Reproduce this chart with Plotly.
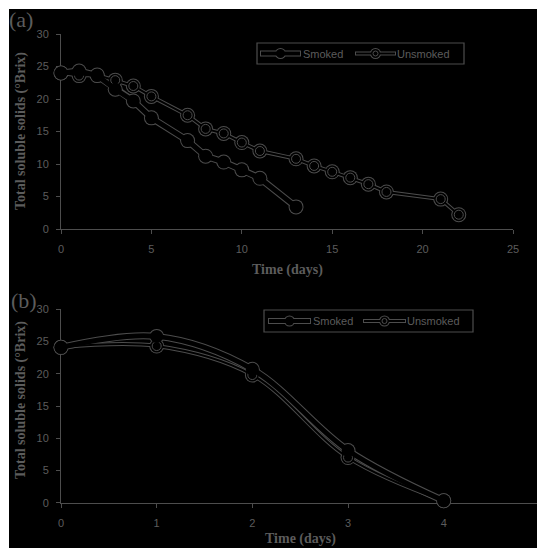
import plotly.graph_objects as go

# Panel (a): storage trial in days
days_a_smoked = [0, 1, 2, 3, 4, 5, 7, 8, 9, 10, 11, 13]
tss_a_smoked = [24.0, 24.3, 23.6, 21.5, 19.7, 17.1, 13.6, 11.2, 10.3, 9.1, 7.8, 3.4]
days_a_unsmoked = [0, 1, 2, 3, 4, 5, 7, 8, 9, 10, 11, 13, 14, 15, 16, 17, 18, 21, 22]
tss_a_unsmoked = [24.0, 23.6, 23.7, 22.9, 22.0, 20.4, 17.5, 15.4, 14.7, 13.3, 12.0,
                  10.8, 9.7, 8.8, 7.9, 6.9, 5.7, 4.6, 2.2]

# Panel (b): short trial
days_b = [0, 1, 2, 3, 4]
tss_b_smoked = [24.1, 25.8, 20.7, 8.1, 0.3]
tss_b_unsmoked = [24.1, 24.3, 19.8, 7.0, 0.3]

series_names = ["Smoked", "Unsmoked"]
x_ticks_a = [0, 5, 10, 15, 20, 25]
x_ticks_b = [0, 1, 2, 3, 4]
y_ticks = [0, 5, 10, 15, 20, 25, 30]

W, H = 537, 548
EDGE = "#4d4d4d"
TXT = "#5c5c5c"
BG = "#000000"


def px(x):
    return x / W


def py(y):
    return 1 - y / H


fig = go.Figure()


def add_halo(xs, ys, xa, ya, filled, shape):
    lw_out = 7 if filled else 4
    fig.add_trace(go.Scatter(x=xs, y=ys, xaxis=xa, yaxis=ya, mode="lines+markers",
                             line=dict(color=EDGE, width=lw_out, shape=shape),
                             marker=dict(symbol="circle", size=15, color=EDGE, line=dict(width=0)),
                             cliponaxis=False, showlegend=False, hoverinfo="skip"))


def add_core(xs, ys, xa, ya, filled, shape):
    lw_in = 5 if filled else 2
    fig.add_trace(go.Scatter(x=xs, y=ys, xaxis=xa, yaxis=ya, mode="lines+markers",
                             line=dict(color=BG, width=lw_in, shape=shape),
                             marker=dict(symbol="circle", size=13, color=BG, line=dict(width=0)),
                             cliponaxis=False, showlegend=False, hoverinfo="skip"))
    if not filled:
        fig.add_trace(go.Scatter(x=xs, y=ys, xaxis=xa, yaxis=ya, mode="markers",
                                 marker=dict(symbol="circle-open", size=9, color=EDGE,
                                             line=dict(color=EDGE, width=1)),
                                 cliponaxis=False, showlegend=False, hoverinfo="skip"))


panels = [
    ("x", "y", days_a_smoked, tss_a_smoked, days_a_unsmoked, tss_a_unsmoked, "linear"),
    ("x2", "y2", days_b, tss_b_smoked, days_b, tss_b_unsmoked, "spline"),
]
for xa, ya, xs_s, ys_s, xs_u, ys_u, shp in panels:
    add_halo(xs_u, ys_u, xa, ya, False, shp)
    add_halo(xs_s, ys_s, xa, ya, True, shp)
    add_core(xs_u, ys_u, xa, ya, False, shp)
    add_core(xs_s, ys_s, xa, ya, True, shp)

axis_common = dict(showline=True, linecolor=EDGE, linewidth=1, showgrid=False, zeroline=False,
                   ticks="outside", ticklen=4, tickcolor=EDGE, tickwidth=1,
                   tickfont=dict(family="Liberation Sans, Arial", size=11, color=TXT),
                   automargin=False, layer="below traces")

fig.update_layout(
    width=W, height=H,
    margin=dict(l=0, r=0, t=0, b=0),
    paper_bgcolor="white", plot_bgcolor=BG,
    showlegend=False,
    xaxis=dict(domain=[px(61), px(513)], range=[0, 25], tickvals=x_ticks_a,
               anchor="y", ticklabelstandoff=6, **axis_common),
    yaxis=dict(domain=[py(229), py(34)], range=[0, 30], tickvals=y_ticks,
               anchor="x", ticklabelstandoff=5, **axis_common),
    xaxis2=dict(domain=[px(61), 1], range=[0, (537 - 61) / 95.675], tickvals=x_ticks_b,
                anchor="y2", ticklabelstandoff=6, **axis_common),
    yaxis2=dict(domain=[py(502.7), py(309.3)], range=[0, 30], tickvals=y_ticks,
                anchor="x2", ticklabelstandoff=5, **axis_common),
)

shapes = [dict(type="rect", xref="paper", yref="paper", x0=px(9), x1=1, y0=0, y1=py(9),
               fillcolor=BG, line=dict(width=0), layer="below")]
annotations = []

title_font = dict(family="Liberation Serif, Times New Roman", size=14, color=TXT)
for (tx, ty), (yx, yy), (lx, ly, lab) in [
    ((287, 270), (21, 131), (21, 20, "(a)")),
    ((300, 539), (21, 400), (24, 300, "(b)")),
]:
    annotations.append(dict(text="<b>Time (days)</b>", x=px(tx), y=py(ty), xref="paper", yref="paper",
                            showarrow=False, font=title_font, xanchor="center", yanchor="middle"))
    annotations.append(dict(text="<b>Total soluble solids (°Brix)</b>", x=px(yx), y=py(yy),
                            xref="paper", yref="paper", showarrow=False, textangle=-90,
                            font=title_font, xanchor="center", yanchor="middle"))
    annotations.append(dict(text=lab, x=px(lx), y=py(ly), xref="paper", yref="paper",
                            showarrow=False, xanchor="center", yanchor="middle",
                            font=dict(family="Liberation Serif, Times New Roman", size=22, color=TXT)))


def legend_box(x0, x1, y0, y1, items):
    cy = (y0 + y1) / 2
    shapes.append(dict(type="rect", xref="paper", yref="paper", x0=px(x0), x1=px(x1),
                       y0=py(y1), y1=py(y0), fillcolor=BG, line=dict(color=EDGE, width=1.2)))
    for name, filled, lx0, lx1, tx in items:
        wo, wi = (6, 4) if filled else (4, 2)
        mx = (lx0 + lx1) / 2
        shapes.append(dict(type="line", xref="paper", yref="paper", x0=px(lx0), x1=px(lx1),
                           y0=py(cy), y1=py(cy), line=dict(color=EDGE, width=wo)))
        shapes.append(dict(type="circle", xref="paper", yref="paper", x0=px(mx - 5.5), x1=px(mx + 5.5),
                           y0=py(cy + 5.5), y1=py(cy - 5.5), fillcolor=EDGE, line=dict(width=0)))
        shapes.append(dict(type="line", xref="paper", yref="paper", x0=px(lx0 + 1), x1=px(lx1 - 1),
                           y0=py(cy), y1=py(cy), line=dict(color=BG, width=wi)))
        shapes.append(dict(type="circle", xref="paper", yref="paper", x0=px(mx - 4.5), x1=px(mx + 4.5),
                           y0=py(cy + 4.5), y1=py(cy - 4.5), fillcolor=BG, line=dict(width=0)))
        if not filled:
            shapes.append(dict(type="circle", xref="paper", yref="paper", x0=px(mx - 2.5),
                               x1=px(mx + 2.5), y0=py(cy + 2.5), y1=py(cy - 2.5),
                               line=dict(color=EDGE, width=1)))
        annotations.append(dict(text=name, x=px(tx), y=py(cy), xref="paper", yref="paper",
                                showarrow=False, xanchor="left", yanchor="middle",
                                font=dict(family="Liberation Sans, Arial", size=11, color=TXT)))


legend_box(257, 464, 43, 64, [(series_names[0], True, 260, 301, 301),
                              (series_names[1], False, 355, 396, 395)])
legend_box(264, 473, 310, 332, [(series_names[0], True, 268, 311, 311),
                                (series_names[1], False, 363, 406, 405)])

fig.update_layout(shapes=shapes, annotations=annotations)
fig.write_html("out.html")
